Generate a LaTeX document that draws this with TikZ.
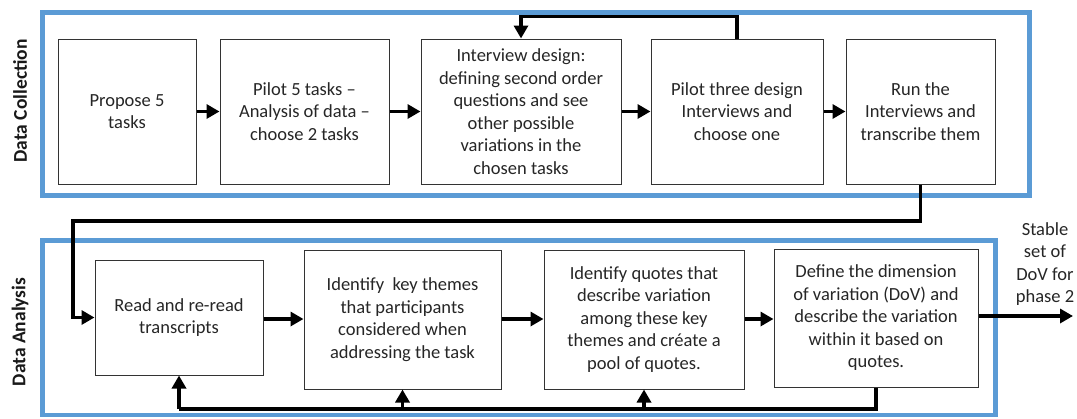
\documentclass[tikz,border=0pt]{standalone}
\usepackage{fontspec}
\setmainfont{Carlito}
\usetikzlibrary{arrows.meta}
\definecolor{frameblue}{HTML}{5B9BD5}
\begin{document}
\begin{tikzpicture}[x=1pt,y=-1pt,
  stepbox/.style={draw=black!80, line width=1pt, fill=white, align=center, inner sep=0pt,
    text=black!85, font=\fontsize{18.5}{22.5}\selectfont},
  frame/.style={draw=frameblue, line width=4.5pt},
  conn/.style={draw=black, line width=3.8pt, line join=miter},
  arr/.style={conn, -{Triangle[length=13pt,width=14pt]}},
  phase/.style={rotate=90, font=\bfseries\fontsize{19.5}{22}\selectfont, text=black!90},
  outtext/.style={align=center, text=black!85, font=\fontsize{18.5}{22.5}\selectfont}]
\useasboundingbox (0,0) rectangle (1077,418);
\path[fill=white] (0,0) rectangle (1077,418);

% frames
\draw[frame] (42.5,12.5) rectangle (1029.5,195.5);
\draw[frame] (42.5,240.5) rectangle (995.5,415);

% phase labels
\node[phase] (lab1) at (20,101) {Data Collection};
\node[phase] (lab2) at (20,332) {Data Analysis};

% top row
\node[stepbox, minimum width=138, minimum height=145] (b1) at (127,111.5) {Propose 5\\tasks};
\node[stepbox, minimum width=169, minimum height=145] (b2) at (304.5,111.5) {Pilot 5 tasks --\\Analysis of data --\\choose 2 tasks};
\node[stepbox, minimum width=200, minimum height=145] (b3) at (521,111.5) {Interview design:\\defining second order\\questions and see\\other possible\\variations in the\\chosen tasks};
\node[stepbox, minimum width=172, minimum height=145] (b4) at (737,111.5) {Pilot three design\\Interviews and\\choose one};
\node[stepbox, minimum width=149, minimum height=145] (b5) at (920.5,111.5) {Run the\\Interviews and\\transcribe them};

% bottom row
\node[stepbox, minimum width=168, minimum height=115] (r1) at (179,317.5) {Read and re-read\\transcripts};
\node[stepbox, minimum width=197, minimum height=139] (r2) at (402.5,319.5) {Identify\ \ key themes\\that participants\\considered when\\addressing the task};
\node[stepbox, minimum width=200, minimum height=139] (r3) at (644,319.5) {Identify quotes that\\describe variation\\among these key\\themes and créate a\\pool of quotes.};
\node[stepbox, minimum width=204, minimum height=138] (r4) at (876,318) {Define the dimension\\of variation (DoV) and\\describe the variation\\within it based on\\quotes.};

\node[outtext] (outlab) at (1045,264) {Stable\\set of\\DoV for\\phase 2};

% coordinates
\coordinate (c1) at (73,221);
\coordinate (c2) at (179,409);
\coordinate (out) at (1073,316);

% top row connectors
\draw[arr] (b1.east) -- (b2.west);
\draw[arr] (b2.east) -- (b3.west);
\draw[arr] (b3.east) -- (b4.west);
\draw[arr] (b4.east) -- (b5.west);
\draw[arr] (b4.north) -- ++(0,-22) -| (b3.north);

% link between phases
\draw[arr] (b5.south) |- (c1) |- (r1.west);

% bottom row connectors
\draw[arr] (r1.east |- 0,319) -- (r2.west |- 0,319);
\draw[arr] (r2.east |- 0,319) -- (r3.west |- 0,319);
\draw[arr] (r3.east |- 0,319) -- (r4.west |- 0,319);
\draw[arr] (r4.east |- out) -- (out);

% feedback in analysis
\draw[conn] (r4.south) |- (c2);
\draw[arr] (c2) -- (r1.south);
\draw[arr] (r2.south |- c2) -- (r2.south);
\draw[arr] (r3.south |- c2) -- (r3.south);
\end{tikzpicture}
\end{document}
